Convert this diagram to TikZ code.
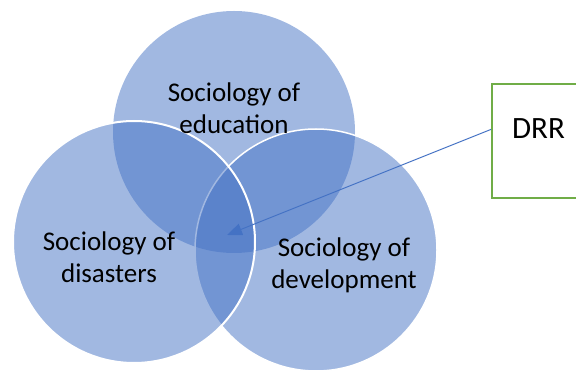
\documentclass[tikz,border=0pt]{standalone}
\usepackage{fontspec}
\setmainfont{Carlito}
\usetikzlibrary{arrows.meta,calc}
\definecolor{vennblue}{HTML}{4472C4}
\definecolor{boxgreen}{HTML}{70AD47}
\begin{document}
\begin{tikzpicture}[x=1pt,y=-1pt,
  venn/.style={circle,minimum size=242pt,inner sep=0pt,fill=vennblue,fill opacity=0.5},
  rim/.style={draw=white,line width=#1},
  lbl/.style={align=center,inner sep=0pt,font=\fontsize{27}{32}\selectfont,text=black},
  framebox/.style={rectangle,draw=boxgreen,line width=2pt,minimum width=160pt,minimum height=114pt,inner sep=0pt},
  pointer/.style={draw=vennblue,line width=1pt,-{Triangle[length=15pt,width=12pt]}}]
  \useasboundingbox (0,0) rectangle (576,371);
  \clip (0,0) rectangle (576,371);
  % the three overlapping circles
  \node[venn] (edu) at (234,132) {};
  \node[venn,rim=1.5pt] (dev) at (316,250) {};
  \node[venn,rim=2pt] (dis) at (134,242) {};
  % circle labels
  \node[lbl] (edulbl) at (234,108.5) {Sociology of\\education};
  \node[lbl] (dislbl) at (109,257.5) {Sociology of\\disasters};
  \node[lbl] (devlbl) at (344,265.5) {Sociology of\\development};
  % DRR frame, running off the right edge
  \node[framebox,anchor=north west] (drr) at (491,83) {};
  \node[inner sep=0pt,anchor=base,font=\fontsize{31}{36}\selectfont] (drrlbl) at (538.5,139) {DRR};
  % pointer into the common overlap
  \coordinate (core) at (227,235);
  \draw[pointer] ($(drr.north west)!0.4!(drr.south west)$) -- (core);
\end{tikzpicture}
\end{document}
